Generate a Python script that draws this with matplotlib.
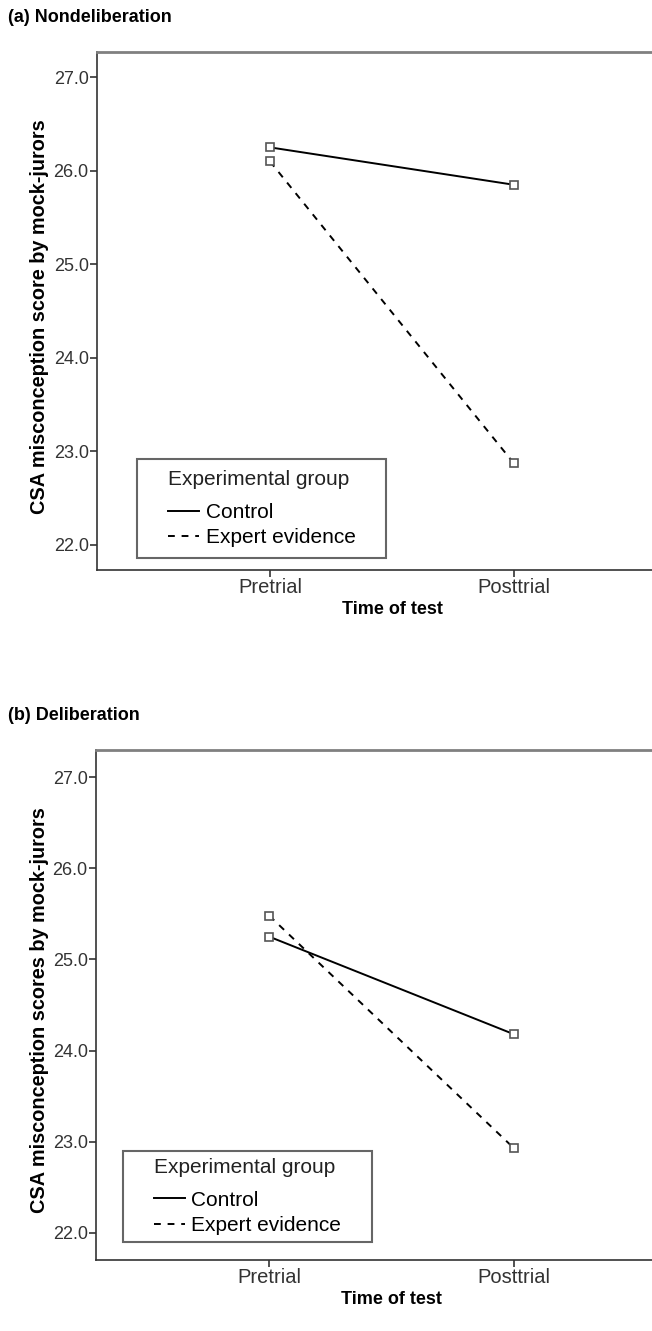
import numpy as np
import matplotlib.pyplot as plt
import matplotlib.transforms as mtransforms
from matplotlib.lines import Line2D
from matplotlib.patches import Rectangle

plt.rcParams['font.family'] = ['Liberation Sans', 'DejaVu Sans']

# Time points and group means
times = ['Pretrial', 'Posttrial']
groups = ['Control', 'Expert evidence']

nondelib_control = [26.25, 25.85]
nondelib_expert = [26.10, 22.87]

delib_control = [25.25, 24.18]
delib_expert = [25.48, 22.93]

yticks = [22.0, 23.0, 24.0, 25.0, 26.0, 27.0]

W, H = 652, 1331
dash = (0, (3.5, 3.5))

panels = [
    ('(a) Nondeliberation', 'CSA misconception score by mock-jurors',
     nondelib_control, nondelib_expert,
     [97 / W, 1 - 570 / H, 1 - 97 / W, 518 / H], (21.73, 27.27), (0.128, 0.044), 18, 11),
    ('(b) Deliberation', 'CSA misconception scores by mock-jurors',
     delib_control, delib_expert,
     [96 / W, 1 - 1260 / H, 1 - 96 / W, 510 / H], (21.70, 27.30), (0.104, 0.049), 716, 7),
]

fig = plt.figure(figsize=(W / 100, H / 100), dpi=100)

x = np.arange(len(times))
legends = []
for title, ylabel, ctrl, expert, rect, ylim, leg_xy, title_y, pad_y in panels:
    ax = fig.add_axes(rect)
    ax.plot(x, ctrl, color='black', lw=1.4, marker='s', markersize=6,
            mfc='white', mec='#555555', mew=1.2)
    ax.plot(x, expert, color='black', lw=1.4, ls=dash, marker='s',
            markersize=6, mfc='white', mec='#555555', mew=1.2)

    ax.set_xlim(-0.709, 1.566)
    ax.set_ylim(*ylim)
    ax.set_xticks(x)
    ax.set_xticklabels(times)
    ax.set_yticks(yticks)
    ax.set_yticklabels([f'{v:.1f}' for v in yticks])
    ax.tick_params(colors='#333333', length=5, width=1.2)
    ax.tick_params(axis='x', labelsize=14.5, pad=0.5)
    ax.tick_params(axis='y', labelsize=13, pad=1)

    for side in ['left', 'bottom']:
        ax.spines[side].set_color('#333333')
        ax.spines[side].set_linewidth(1.2)
    ax.spines['top'].set_color('#808080')
    ax.spines['top'].set_linewidth(2)
    ax.spines['right'].set_visible(False)

    ax.set_ylabel(ylabel, fontsize=14.3, fontweight='bold')
    ax.yaxis.set_label_coords((49 - rect[0] * W) / (rect[2] * W), 0.49)

    # centred under the two categories rather than the whole frame
    trans = mtransforms.blended_transform_factory(ax.transData, ax.transAxes)
    ax.text(0.5, -0.06, 'Time of test', transform=trans, ha='center', va='top',
            fontsize=13, fontweight='bold')

    fig.text(8 / W, 1 - title_y / H, title, ha='left', va='center',
             fontsize=13, fontweight='bold')

    handles = [Line2D([], [], color='black', lw=1.4),
               Line2D([], [], color='black', lw=1.4, ls=dash)]
    leg = ax.legend(handles, groups, title='Experimental group', loc='lower left',
                    bbox_to_anchor=leg_xy, fontsize=15, title_fontsize=15,
                    frameon=False, handlelength=1.5, handletextpad=0.3,
                    labelspacing=0.3, borderpad=0, borderaxespad=0)
    leg.get_title().set_color('#222222')
    leg._legend_box.align = 'left'
    leg._legend_box.sep = 10
    legends.append((leg, pad_y))

# legend frame with wider side padding than top/bottom
fig.canvas.draw()
for leg, py in legends:
    bb = leg.get_window_extent()
    px = 31
    fig.add_artist(Rectangle(((bb.x0 - px) / W, (bb.y0 - py) / H),
                             (bb.width + 2 * px) / W, (bb.height + 2 * py) / H,
                             transform=fig.transFigure, fill=False,
                             edgecolor='#666666', linewidth=1.5))

fig.savefig('out.png', dpi=100)
